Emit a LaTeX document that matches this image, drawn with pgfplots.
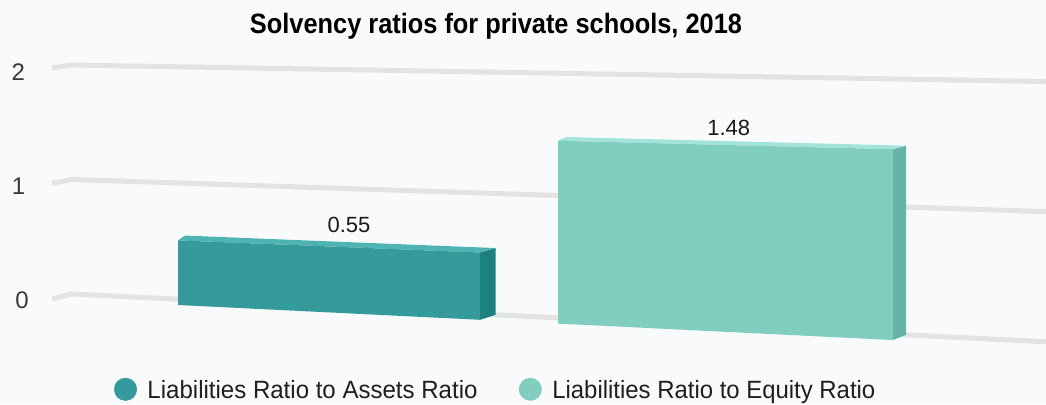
\documentclass[border=0pt]{standalone}
\usepackage{pgfplots}
\pgfplotsset{compat=1.18}
\usepackage{graphicx}
\usepackage{fontspec}
\setmainfont{Liberation Sans}

\definecolor{bg}{HTML}{F9FAFC}
\definecolor{gridc}{HTML}{E3E3E3}
\definecolor{tealA}{HTML}{359A9B}
\definecolor{tealAside}{HTML}{1C7F80}
\definecolor{tealAtop}{HTML}{4FB3B3}
\definecolor{mintB}{HTML}{81CEC1}
\definecolor{mintBside}{HTML}{66B4A8}
\definecolor{mintBtop}{HTML}{A3E4DA}

% columns: x position on the picture, value v, depth d (1 = front plane, 0 = back plane)
% the chart is seen in perspective, so the value scale depends on x and d
\pgfplotsset{
  table/persp/.style={
    x=x,
    y expr={-(290.47 + 5.81*\thisrow{d} + 0.049*\thisrow{x}
      - (113.35 + 1.3*\thisrow{d} + 0.016*\thisrow{x})*\thisrow{v})},
  },
}

\begin{document}
\begin{tikzpicture}
\begin{axis}[
  x=1bp, y=1bp, scale only axis,
  xmin=0, xmax=1046, ymin=-404, ymax=0,
  hide axis, clip=false,
  legend columns=2,
  legend style={at={(axis cs:114,-389.3)}, anchor=west, draw=none, fill=none,
    inner sep=0pt, outer sep=0pt,
    nodes={inner sep=0pt, text=black!88},
    font=\fontsize{25bp}{30bp}\selectfont,
    /tikz/every odd column/.append style={column sep=10.5bp},
    /tikz/every even column/.append style={column sep=41.3bp}},
  legend image code/.code={\fill[#1, draw=none] (11.5bp,10bp) circle (11.5bp);},
]
\fill[bg] (rel axis cs:0,0) rectangle (rel axis cs:1,1);

% grid lines
\addplot[gridc, line width=5bp, line join=round, forget plot] table[persp] {
x v d
52 0 1
72 0 0
1046 0 0
};
\addplot[gridc, line width=5bp, line join=round, forget plot] table[persp] {
x v d
52 1 1
72 1 0
1046 1 0
};
\addplot[gridc, line width=5bp, line join=round, forget plot] table[persp] {
x v d
52 2 1
72 2 0
1046 2 0
};

% Liabilities Ratio to Assets Ratio = 0.55
\addplot[fill=tealAside, draw=none, forget plot] table[persp] {
x v d
480 0 1
480 0.55 1
495.7 0.55 0
495.7 0 0
} --cycle;
\addplot[fill=tealAtop, draw=none, forget plot] table[persp] {
x v d
178 0.55 1
480 0.55 1
495.7 0.55 0
185 0.55 0
} --cycle;
\addplot[fill=tealA, draw=none] table[persp] {
x v d
178 0 1
480 0 1
480 0.55 1
178 0.55 1
} --cycle;
\addlegendentry{\smash{\resizebox{330bp}{\height}{Liabilities Ratio to Assets Ratio}}}

% Liabilities Ratio to Equity Ratio = 1.48
\addplot[fill=mintBside, draw=none, forget plot] table[persp] {
x v d
893 0 1
893 1.48 1
906 1.48 0
906 0 0
} --cycle;
\addplot[fill=mintBtop, draw=none, forget plot] table[persp] {
x v d
558 1.48 1
893 1.48 1
906 1.48 0
566 1.48 0
} --cycle;
\addplot[fill=mintB, draw=none] table[persp] {
x v d
558 0 1
893 0 1
893 1.48 1
558 1.48 1
} --cycle;
\addlegendentry{\smash{\resizebox{323bp}{\height}{Liabilities Ratio to Equity Ratio}}}

% value labels
\node[anchor=base, inner sep=0pt, text=black!90, font=\fontsize{22bp}{26bp}\selectfont] at (axis cs:349,-232.3) {0.55};
\node[anchor=base, inner sep=0pt, text=black!90, font=\fontsize{22bp}{26bp}\selectfont] at (axis cs:728.7,-135) {1.48};

% value axis labels
\node[inner sep=0pt, text=black!78, font=\fontsize{24bp}{28bp}\selectfont] at (axis cs:18.3,-72.5) {2};
\node[inner sep=0pt, text=black!78, font=\fontsize{24bp}{28bp}\selectfont] at (axis cs:18.5,-186.5) {1};
\node[inner sep=0pt, text=black!78, font=\fontsize{24bp}{28bp}\selectfont] at (axis cs:22,-300) {0};

% title
\node[anchor=base, inner sep=0pt, font=\fontsize{28bp}{34bp}\selectfont\bfseries] at (axis cs:496,-33.3)
  {\resizebox{492bp}{\height}{Solvency ratios for private schools, 2018}};
\end{axis}
\pgfresetboundingbox
\useasboundingbox (current axis.south west) rectangle (current axis.north east);
\end{tikzpicture}
\end{document}
